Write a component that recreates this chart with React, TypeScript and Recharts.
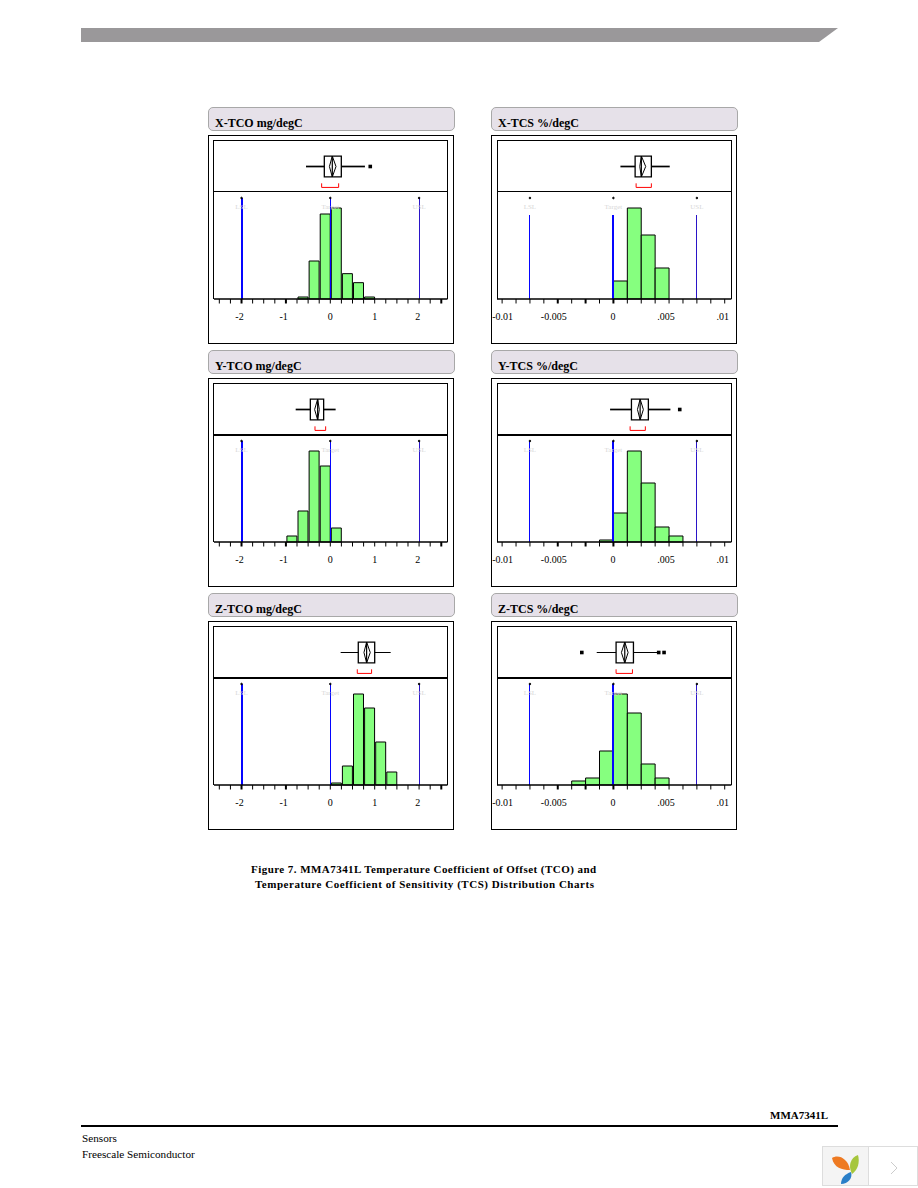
import { Bar, ComposedChart, ReferenceArea, ReferenceDot, ReferenceLine, Scatter, XAxis, YAxis } from "recharts";

// shared axis values
const tcoDomain = [-2.62, 2.64];
const tcsDomain = [-0.01046, 0.0106];
const tcoTicks = [-2.5, -2.25, -2, -1.75, -1.5, -1.25, -1, -0.75, -0.5, -0.25, 0, 0.25, 0.5, 0.75, 1, 1.25, 1.5, 1.75, 2, 2.25, 2.5];
const tcsTicks = [-0.01, -0.00875, -0.0075, -0.00625, -0.005, -0.00375, -0.0025, -0.00125, 0, 0.00125, 0.0025, 0.00375, 0.005, 0.00625, 0.0075, 0.00875, 0.01];
const tcoHeavyTicks = [-2, -1, 2.5];
const tcsHeavyTicks = [-0.005, -0.0025, 0];
const tcoLabels: Record<string, string> = { "-2": "-2", "-1": "-1", "0": "0", "1": "1", "2": "2" };
const tcsLabels: Record<string, string> = { "-0.01": "-0.01", "-0.005": "-0.005", "0": "0", "0.005": ".005", "0.01": ".01" };
const tcoLabelShift: Record<string, number> = { "-2": -2, "-1": -2.3, "0": 0, "1": 0, "2": -1.3 };
const tcsLabelShift: Record<string, number> = { "-0.01": 0.5, "-0.005": -4, "0": -0.5, "0.005": -3, "0.01": -2 };
const tcoSpecs = [-2, 0, 2];
const tcsSpecs = [-0.0075, 0, 0.0075];
const specNames = ["LSL", "Target", "USL"];

// histogram bins and counts
const xTcoBins = [-0.625, -0.375, -0.125, 0.125, 0.375, 0.625, 0.875];
const xTcoCounts = [6, 114, 255, 273, 76, 49, 6];
const yTcoBins = [-0.875, -0.625, -0.375, -0.125, 0.125];
const yTcoCounts = [18, 93, 273, 228, 42];
const zTcoBins = [0.125, 0.375, 0.625, 0.875, 1.125, 1.375];
const zTcoCounts = [6, 57, 273, 231, 129, 39];
const xTcsBins = [0.000625, 0.001875, 0.003125, 0.004375];
const xTcsCounts = [54, 273, 192, 93];
const yTcsBins = [-0.000625, 0.000625, 0.001875, 0.003125, 0.004375, 0.005625];
const yTcsCounts = [6, 87, 273, 177, 45, 18];
const zTcsBins = [-0.003125, -0.001875, -0.000625, 0.000625, 0.001875, 0.003125, 0.004375];
const zTcsCounts = [12, 21, 102, 273, 216, 63, 21];

// box plots: whisker low, q1, median, q3, whisker high, diamond low, diamond high, bracket low, bracket high
const xTcoBox = [-0.548, -0.135, 0.045, 0.248, 0.78, -0.02, 0.128, -0.195, 0.188];
const yTcoBox = [-0.78, -0.45, -0.285, -0.15, 0.12, -0.353, -0.248, -0.345, -0.105];
const zTcoBox = [0.233, 0.63, 0.818, 1.0, 1.36, 0.758, 0.9, 0.608, 0.93];
const xTcsBox = [0.00063, 0.00195, 0.00251, 0.00341, 0.00506, 0.00237, 0.0029, 0.00204, 0.00341];
const yTcsBox = [-0.0003, 0.00162, 0.0024, 0.00314, 0.00512, 0.00216, 0.00269, 0.0015, 0.00287];
const zTcsBox = [-0.0015, 0.00024, 0.00102, 0.0018, 0.00407, 0.00072, 0.00132, 0.00024, 0.00171];
const xTcoOutliers = [0.9];
const yTcsOutliers = [0.00596];
const zTcsOutliers = [-0.00284, 0.00407, 0.00455];

const serif = "'Liberation Serif', serif";
const specColors = ["#0505ff", "#0505ff", "#2a14c8"];
const green = "#86ff7f";
const gutter = 10; // room left of the frame for the -0.01 label

const tco = { domain: tcoDomain, ticks: tcoTicks, heavy: tcoHeavyTicks, labels: tcoLabels, shifts: tcoLabelShift, specs: tcoSpecs, barSize: 11.1, left: 208, frameLeft: 214, frameWidth: 233.5 };
const tcs = { domain: tcsDomain, ticks: tcsTicks, heavy: tcsHeavyTicks, labels: tcsLabels, shifts: tcsLabelShift, specs: tcsSpecs, barSize: 13.9, left: 491, frameLeft: 497.3, frameWidth: 234.4 };

const panels = [
  { ...tco, title: "X-TCO mg/degC", top: 107, bins: xTcoBins, counts: xTcoCounts, box: xTcoBox, outliers: xTcoOutliers, specTop: 303, specWidths: [2, 1, 1], whisker: 1.7, divider: 1 },
  { ...tcs, title: "X-TCS %/degC", top: 107, bins: xTcsBins, counts: xTcsCounts, box: xTcsBox, outliers: [], specTop: 253, specWidths: [1, 2, 1], whisker: 1.7, divider: 1 },
  { ...tco, title: "Y-TCO mg/degC", top: 350, bins: yTcoBins, counts: yTcoCounts, box: yTcoBox, outliers: [], specTop: 303, specWidths: [2, 1, 1], whisker: 1.7, divider: 2 },
  { ...tcs, title: "Y-TCS %/degC", top: 350, bins: yTcsBins, counts: yTcsCounts, box: yTcsBox, outliers: yTcsOutliers, specTop: 303, specWidths: [1, 2, 1], whisker: 1.7, divider: 2 },
  { ...tco, title: "Z-TCO mg/degC", top: 593, bins: zTcoBins, counts: zTcoCounts, box: zTcoBox, outliers: [], specTop: 303, specWidths: [2, 1, 1], whisker: 1, divider: 2 },
  { ...tcs, title: "Z-TCS %/degC", top: 593, bins: zTcsBins, counts: zTcsCounts, box: zTcsBox, outliers: zTcsOutliers, specTop: 303, specWidths: [1, 2, 1], whisker: 1, divider: 2 },
];

function AxisTick({ x, y, payload, heavy, labels, shifts }: any) {
  const key = String(payload.value);
  const label = labels[key];
  return (
    <g>
      <line x1={x} x2={x} y1={y} y2={y + 4.5} stroke="#000" strokeWidth={heavy.includes(payload.value) ? 2 : 1} />
      {label && (
        <text x={x + shifts[key]} y={y + 21} textAnchor="middle" fontSize={10} fontFamily={serif} fill="#000">
          {label}
        </text>
      )}
    </g>
  );
}

function OutlierMark({ cx, cy, payload }: any) {
  if (payload.hidden) return null;
  return <rect x={cx - 1.8} y={cy - 1.8} width={3.6} height={3.6} fill="#000" />;
}

function BoxPlot({ p }: { p: any }) {
  const [low, q1, median, q3, high, diaLow, diaHigh, brLow, brHigh] = p.box;
  // whisker ends travel with the outliers so the chart always has data to draw
  const dots = [
    { x: low, y: 0.5, hidden: true },
    { x: high, y: 0.5, hidden: true },
    ...p.outliers.map((x: number) => ({ x, y: 0.5 })),
  ];
  const seg = (x1: number, y1: number, x2: number, y2: number, color = "#000", width = 1) => (
    <ReferenceLine segment={[{ x: x1, y: y1 }, { x: x2, y: y2 }]} stroke={color} strokeWidth={width} />
  );
  return (
    <ComposedChart width={p.frameWidth} height={51} margin={{ top: 0, right: 0, bottom: 0, left: 0 }}>
      <XAxis type="number" dataKey="x" domain={p.domain} allowDataOverflow hide />
      <YAxis type="number" dataKey="y" domain={[0, 1]} hide />
      {seg(low, 0.5, q1, 0.5, "#000", p.whisker)}
      {seg(q3, 0.5, high, 0.5, "#000", p.whisker)}
      <ReferenceArea x1={q1} x2={q3} y1={0.295} y2={0.705} fill="#fff" fillOpacity={1} stroke="#000" strokeWidth={1.3} />
      {seg(median, 0.295, median, 0.705, "#000", 1.2)}
      {seg(diaLow, 0.5, median, 0.705)}
      {seg(median, 0.705, diaHigh, 0.5)}
      {seg(diaHigh, 0.5, median, 0.295)}
      {seg(median, 0.295, diaLow, 0.5)}
      {seg(brLow, 0.17, brLow, 0.09, "#f00")}
      {seg(brLow, 0.09, brHigh, 0.09, "#f00")}
      {seg(brHigh, 0.09, brHigh, 0.17, "#f00")}
      <Scatter data={dots} shape={OutlierMark} fill="#000" isAnimationActive={false} />
    </ComposedChart>
  );
}

function Histogram({ p }: { p: any }) {
  const rows = p.bins.map((bin: number, i: number) => ({ bin, count: p.counts[i] }));
  return (
    <ComposedChart data={rows} width={p.frameWidth + gutter} height={139} margin={{ top: 0, right: 0, bottom: 0, left: gutter }}>
      <XAxis
        type="number"
        dataKey="bin"
        domain={p.domain}
        allowDataOverflow
        ticks={p.ticks}
        interval={0}
        height={32}
        tickSize={0}
        tickMargin={0}
        tickLine={false}
        stroke="#000"
        strokeWidth={1.5}
        tick={(props: any) => <AxisTick {...props} heavy={p.heavy} labels={p.labels} shifts={p.shifts} />}
      />
      <YAxis type="number" domain={[0, 321]} hide />
      <Bar dataKey="count" fill={green} stroke="#000" strokeWidth={1} barSize={p.barSize} isAnimationActive={false} />
      {p.specs.map((x: number, i: number) => (
        <ReferenceLine
          key={specNames[i]}
          segment={[{ x, y: 0 }, { x, y: p.specTop }]}
          stroke={specColors[i]}
          strokeWidth={p.specWidths[i]}
          shapeRendering="crispEdges"
        />
      ))}
      {p.specs.map((x: number, i: number) => (
        <ReferenceDot
          key={specNames[i]}
          x={x}
          y={303}
          r={0.8}
          fill="#000"
          stroke="#000"
          label={{ value: specNames[i], position: "bottom", offset: 5.5, fill: "#d8d8d8", fontSize: 7, fontFamily: serif }}
        />
      ))}
    </ComposedChart>
  );
}

function Panel({ p }: { p: any }) {
  const abs = (left: number, top: number, extra = {}) => ({ position: "absolute" as const, left, top, ...extra });
  return (
    <>
      <div
        style={abs(p.left, p.top, {
          width: 247,
          height: 24,
          boxSizing: "border-box",
          background: "#e6e1e9",
          border: "1px solid #a8a8a8",
          borderRadius: 5,
          font: `bold 12px ${serif}`,
          paddingLeft: 6,
          paddingTop: 8,
          lineHeight: "14px",
          color: "#000",
        })}
      >
        {p.title}
      </div>
      <div
        style={abs(p.left, p.top + 27.5, {
          width: 246,
          height: 209,
          boxSizing: "border-box",
          border: "1px solid #000",
        })}
      />
      <div
        style={abs(p.frameLeft - 0.75, p.top + 33, {
          width: p.frameWidth + 1.5,
          height: 158.5,
          boxSizing: "border-box",
          borderLeft: "1.5px solid #000",
          borderRight: "1.5px solid #000",
          borderTop: "1px solid #000",
        })}
      />
      <div style={abs(p.frameLeft, p.top + 84, { width: p.frameWidth, height: p.divider, background: "#000" })} />
      <div style={abs(p.frameLeft, p.top + 33.5)}>
        <BoxPlot p={p} />
      </div>
      <div style={abs(p.frameLeft - gutter, p.top + 84.5)}>
        <Histogram p={p} />
      </div>
    </>
  );
}

export default function App() {
  return (
    <div style={{ position: "absolute", left: 0, top: 0, width: 918, height: 1188, background: "#fff", fontFamily: serif, color: "#000" }}>
      <div style={{ position: "absolute", left: 81, top: 28, width: 757, height: 14, background: "#9a989a", clipPath: "polygon(0 0, 100% 0, 738px 100%, 0 100%)" }} />
      {panels.map((p) => (
        <Panel key={p.title} p={p} />
      ))}
      <div style={{ position: "absolute", left: 251, top: 862, fontWeight: "bold", fontSize: 11, letterSpacing: 0.45, lineHeight: "14px", whiteSpace: "nowrap" }}>
        Figure 7. MMA7341L Temperature Coefficient of Offset (TCO) and
      </div>
      <div style={{ position: "absolute", left: 255, top: 877, fontWeight: "bold", fontSize: 11, letterSpacing: 0.53, lineHeight: "14px", whiteSpace: "nowrap" }}>
        Temperature Coefficient of Sensitivity (TCS) Distribution Charts
      </div>
      <div style={{ position: "absolute", left: 770, top: 1108, fontWeight: "bold", fontSize: 11, lineHeight: "14px" }}>MMA7341L</div>
      <div style={{ position: "absolute", left: 81, top: 1125, width: 757, height: 2, background: "#000" }} />
      <div style={{ position: "absolute", left: 82, top: 1131, fontSize: 11.2, lineHeight: "14px" }}>Sensors</div>
      <div style={{ position: "absolute", left: 82, top: 1147, fontSize: 11.2, lineHeight: "14px" }}>Freescale Semiconductor</div>
      <svg style={{ position: "absolute", left: 822, top: 1146 }} width={96} height={40}>
        <rect x={0.5} y={0.5} width={46} height={39} fill="#f4f4f4" stroke="#ddd" />
        <rect x={46.5} y={0.5} width={49} height={39} fill="#fff" stroke="#ddd" />
        <path d="M10 12 C16 8 26 12 28 24 C20 24 12 22 10 12 Z" fill="#ee7a22" />
        <path d="M36 9 C38 16 36 24 30 28 C26 20 28 12 36 9 Z" fill="#a6c63c" />
        <path d="M19 38 C19 32 23 28 29 26 C31 32 26 38 19 38 Z" fill="#2a7fc8" />
        <path d="M69 16 L75 22 L69 28" fill="none" stroke="#ccc" />
      </svg>
    </div>
  );
}
